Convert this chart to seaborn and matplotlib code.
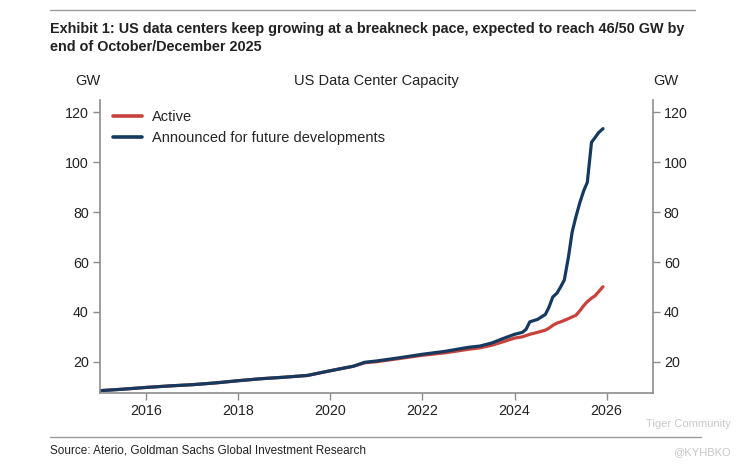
import pandas as pd
import matplotlib.pyplot as plt
import seaborn as sns
import numpy as np

# decimal years and capacity (GW)
dates = [2015.0, 2015.5, 2016.0, 2016.5, 2017.0, 2017.5, 2018.0, 2018.5, 2019.0, 2019.5,
         2020.0, 2020.5, 2020.75, 2021.0, 2021.5, 2022.0, 2022.5, 2022.75, 2023.0, 2023.25,
         2023.5, 2023.75, 2024.0, 2024.17, 2024.25, 2024.33, 2024.5, 2024.67, 2024.75, 2024.83,
         2024.92, 2025.0, 2025.08, 2025.17, 2025.25, 2025.33, 2025.42, 2025.5, 2025.58, 2025.67,
         2025.75, 2025.83, 2025.92]
active = [8.4, 9.0, 9.7, 10.3, 10.8, 11.5, 12.4, 13.2, 13.8, 14.5,
          16.4, 18.2, 19.6, 20.0, 21.3, 22.6, 23.6, 24.3, 25.0, 25.6,
          26.6, 28.0, 29.5, 30.0, 30.5, 31.0, 31.8, 32.7, 33.5, 34.6,
          35.5, 36.0, 36.6, 37.3, 38.0, 38.6, 40.5, 42.5, 44.1, 45.5,
          46.5, 48.2, 50.1]
announced = [8.4, 9.0, 9.7, 10.3, 10.8, 11.5, 12.4, 13.2, 13.8, 14.5,
             16.4, 18.2, 19.8, 20.3, 21.6, 23.0, 24.2, 25.0, 25.8, 26.3,
             27.5, 29.3, 31.0, 31.8, 33.0, 36.0, 37.0, 39.0, 42.0, 46.0,
             47.5, 50.0, 52.8, 62.0, 72.0, 78.0, 84.0, 88.5, 92.0, 108.0,
             110.0, 112.0, 113.5]

df = pd.DataFrame({'date': dates, 'Active': active,
                   'Announced for future developments': announced})
long_df = df.melt(id_vars='date', var_name='series', value_name='gw')

sns.set_style('white')
plt.rcParams['font.family'] = ['Liberation Sans', 'DejaVu Sans']

fig = plt.figure(figsize=(7.46, 4.65), dpi=100)
ax = fig.add_axes([0.134, 0.155, 0.741, 0.63])

sns.lineplot(data=long_df, x='date', y='gw', hue='series',
             palette=['#C8413B', '#163A5F'], linewidth=2.3, ax=ax)

ax.set_xlim(2015, 2027)
ax.set_ylim(7.5, 125)
ax.set_xticks([2016, 2018, 2020, 2022, 2024, 2026])
ax.set_yticks([20, 40, 60, 80, 100, 120])
ax.set_xlabel('')
ax.set_ylabel('')

spine_c = '#8c8c8c'
for s in ['left', 'right', 'bottom']:
    ax.spines[s].set_color(spine_c)
    ax.spines[s].set_linewidth(1.2)
ax.spines['top'].set_visible(False)
ax.tick_params(axis='both', direction='out', length=5, width=1, color=spine_c,
               labelsize=10.3, labelcolor='#222222', pad=3)
ax.tick_params(axis='y', left=True, right=True, labelright=True)
ax.tick_params(axis='x', bottom=True)

leg = ax.legend(loc='upper left', frameon=False, fontsize=10.5, handlelength=2.0,
                handletextpad=0.7, bbox_to_anchor=(0.0, 1.01), labelspacing=0.5)
for line in leg.get_lines():
    line.set_linewidth(2.6)

# headings and frame lines
fig.text(0.067, 0.952, 'Exhibit 1: US data centers keep growing at a breakneck pace, expected to reach 46/50 GW by\nend of October/December 2025',
         fontsize=10.4, fontweight='bold', va='top', ha='left', color='#222222',
         linespacing=1.3)
fig.text(0.504, 0.818, 'US Data Center Capacity', fontsize=10.5, ha='center', color='#222222')
fig.text(0.118, 0.818, 'GW', fontsize=10.5, ha='center', color='#222222')
fig.text(0.892, 0.818, 'GW', fontsize=10.5, ha='center', color='#222222')
fig.add_artist(plt.Line2D([0.067, 0.932], [0.978, 0.978], color='#9a9a9a', lw=1))
fig.add_artist(plt.Line2D([0.067, 0.94], [0.06, 0.06], color='#9a9a9a', lw=1))
fig.text(0.067, 0.032, 'Source: Aterio, Goldman Sachs Global Investment Research',
         fontsize=8.5, va='center', color='#222222')

# watermark
fig.text(0.98, 0.088, 'Tiger Community', fontsize=8, ha='right', va='center', color='#c8c8c8')
fig.text(0.98, 0.028, '@KYHBKO', fontsize=8, ha='right', va='center', color='#c8c8c8')

fig.savefig('out.png', dpi=100)
